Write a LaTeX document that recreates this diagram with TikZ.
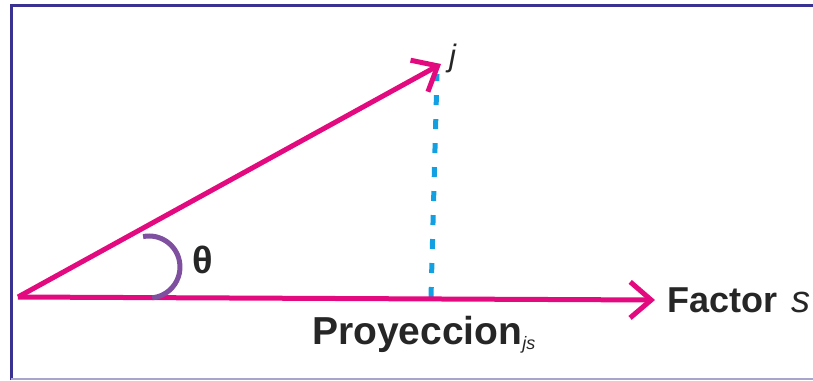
\documentclass[tikz,border=0pt]{standalone}
\usepackage{fontspec}
\setmainfont{Liberation Sans}
\usetikzlibrary{arrows.meta}
\definecolor{vecpink}{HTML}{E3097F}
\definecolor{projblue}{HTML}{13A0E2}
\definecolor{anglepurple}{HTML}{7E509F}
\definecolor{framenavy}{HTML}{3A3290}
\definecolor{framelilac}{HTML}{A9A4CC}
\definecolor{inkgrey}{HTML}{262626}

\begin{document}
\begin{tikzpicture}[
  x=1pt, y=-1pt,
  vec/.style={vecpink, line width=5pt, -{Straight Barb[length=21pt,width=36pt,line width=5pt]}},
  proj/.style={projblue, line width=5pt, dash pattern=on 10pt off 14pt},
  ang/.style={anglepurple, line width=5pt},
  lab/.style={inkgrey, inner sep=0pt, font=\fontsize{36}{40}\selectfont\bfseries}
]
\useasboundingbox (0,0) rectangle (813,380);
% frame
\draw[framenavy, line width=3pt] (11,380) -- (11,5.5) -- (813,5.5);
\draw[framelilac, line width=1.5pt] (11,379) -- (813,379);

\coordinate (o) at (18,297);
\coordinate (j) at (441,64);
\coordinate (s) at (655,300);
\coordinate (foot) at (431,297);
\coordinate (top) at (437,74);

\draw[proj] (foot) -- (top);
\draw[vec] (o) -- (j);
\draw[vec] (o) -- (s);
\draw[ang] (149,267) ++(-101:31) arc[start angle=-101, end angle=84, radius=31];

\node[lab, anchor=center, font=\fontsize{38}{40}\selectfont\bfseries] (theta) at (203,260) {θ};
\node[inkgrey, inner sep=0pt, anchor=base west, font=\fontsize{31}{34}\selectfont\itshape] (jlab) at (449,66) {j};
\node[lab, anchor=base west] (factor) at (667,312) {Factor\hspace{4pt} \mdseries\itshape\fontsize{38}{40}\selectfont s};
\node[lab, anchor=base west, font=\fontsize{39}{42}\selectfont\bfseries] (proy) at (312,344)
  {Proyeccion\raisebox{-5pt}{\fontsize{18}{18}\selectfont\mdseries\itshape js}};
\end{tikzpicture}
\end{document}
